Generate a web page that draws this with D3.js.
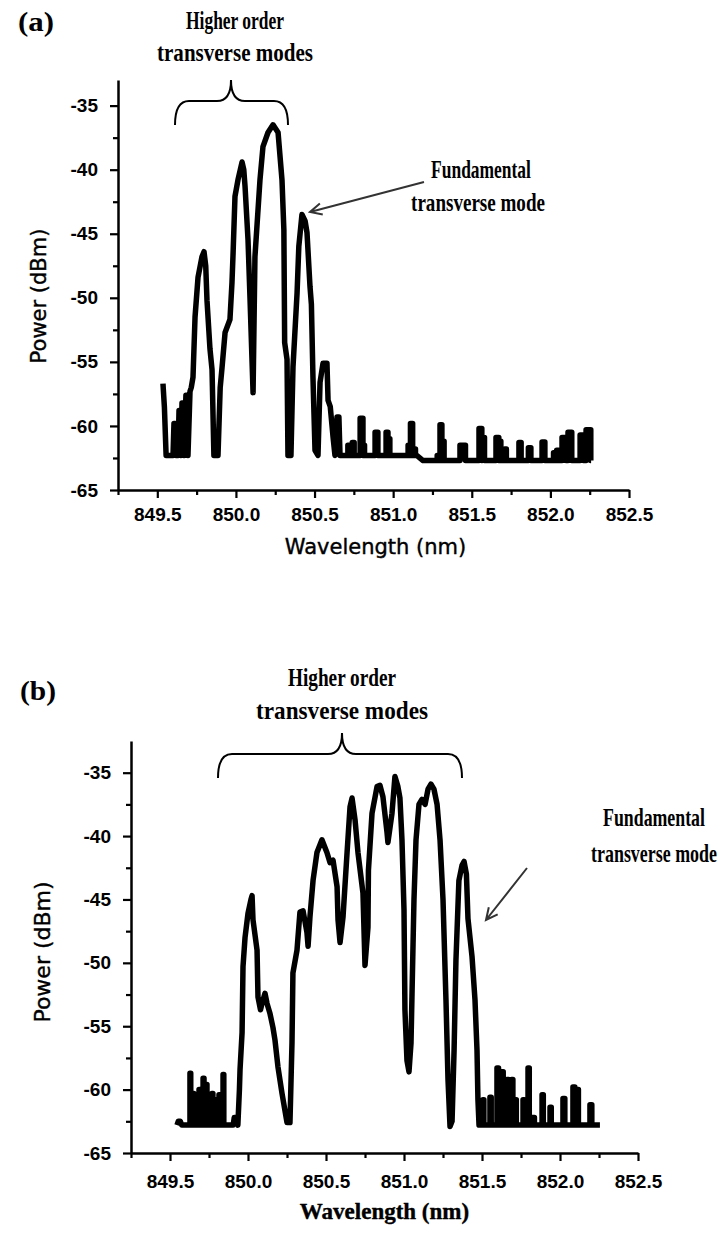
<!DOCTYPE html>
<html>
<head>
<meta charset="utf-8">
<script src="https://cdn.jsdelivr.net/npm/d3@7"></script>
<style>
  body { margin: 0; background: #fff; }
  .tick text { font-family: "Liberation Sans", Arial, sans-serif; font-weight: bold; }
  .note { font-family: "Liberation Serif", "Times New Roman", serif; font-weight: bold; }
</style>
</head>
<body>
<div id="chart"></div>
<script>

// axis ticks (same for both panels)
const xMajor = [849.5, 850.0, 850.5, 851.0, 851.5, 852.0, 852.5];
const xMinor = [849.25, 849.75, 850.25, 850.75, 851.25, 851.75, 852.25];
const yMajor = [-65, -60, -55, -50, -45, -40, -35];
const yMinor = [-62.5, -57.5, -52.5, -47.5, -42.5, -37.5];

// (a) spectrum, [wavelength nm, power dBm]
const traceA = [
    [849.536, -56.7], [849.545, -58.5], [849.556, -62.3], [849.600, -62.3],
    [849.606, -59.8], [849.613, -59.8], [849.619, -62.3], [849.632, -62.3],
    [849.638, -58.8], [849.644, -58.8], [849.650, -62.3], [849.657, -58.2],
    [849.663, -58.2], [849.670, -62.3], [849.682, -57.6], [849.689, -57.6],
    [849.695, -62.3], [849.708, -57.3], [849.716, -57.0], [849.727, -56.2],
    [849.740, -51.5], [849.759, -48.4], [849.784, -46.8], [849.797, -46.4],
    [849.808, -47.5], [849.816, -50.2], [849.835, -54.0], [849.848, -55.6],
    [849.860, -62.3], [849.886, -62.3], [849.900, -57.0], [849.912, -55.4],
    [849.931, -52.7], [849.962, -51.7], [849.975, -48.8], [849.982, -46.5],
    [849.994, -42.1], [850.013, -40.8], [850.039, -39.4], [850.050, -40.0],
    [850.058, -41.3], [850.077, -45.5], [850.090, -50.2], [850.109, -57.4],
    [850.121, -46.8], [850.153, -40.8], [850.172, -38.2], [850.204, -37.1],
    [850.236, -36.5], [850.268, -37.1], [850.293, -40.8], [850.305, -44.7],
    [850.310, -53.5], [850.325, -54.8], [850.331, -62.3], [850.350, -62.3],
    [850.363, -55.4], [850.389, -49.6], [850.400, -46.0], [850.420, -43.5],
    [850.440, -44.0], [850.452, -44.9], [850.471, -49.1], [850.480, -50.5],
    [850.490, -56.2], [850.503, -61.9], [850.522, -62.3], [850.535, -56.6],
    [850.554, -55.1], [850.579, -55.1], [850.586, -58.0], [850.600, -58.5],
    [850.618, -60.9], [850.630, -62.3], [850.643, -59.3], [850.655, -59.3],
    [850.662, -62.3], [850.700, -62.3]
];
// (a) noise spikes: [wavelength, top dBm, width nm]
const noiseA1 = [
    [850.712, -61.5, 0.006], [850.740, -61.3, 0.012], [850.790, -59.4, 0.018],
    [850.808, -61.5, 0.010], [850.885, -60.5, 0.018], [850.955, -60.5, 0.012],
    [850.967, -61.0, 0.012], [851.095, -61.5, 0.010], [851.110, -59.8, 0.014],
    [851.130, -61.8, 0.012]
];
const noiseA2 = [
    [851.280, -62.3, 0.012], [851.298, -59.9, 0.012], [851.312, -61.2, 0.012],
    [851.425, -61.5, 0.035], [851.546, -60.2, 0.018], [851.565, -60.9, 0.016],
    [851.654, -60.9, 0.018], [851.673, -61.2, 0.012], [851.710, -61.8, 0.010],
    [851.800, -61.3, 0.014], [851.860, -61.7, 0.016], [851.947, -61.25, 0.018],
    [852.020, -62.1, 0.010], [852.040, -61.9, 0.012], [852.074, -60.9, 0.026],
    [852.112, -60.5, 0.024], [852.189, -60.7, 0.022], [852.227, -60.3, 0.030]
];
const baseA = [-62.3, -62.7];
const endA = 852.259;

// (b) spectrum
const headB = [
    [849.545, -62.8], [849.553, -62.5], [849.566, -62.5], [849.575, -62.8], [849.622, -62.8]
];
const noiseB1 = [
    [849.628, -58.7, 0.005], [849.647, -60.3, 0.006], [849.667, -60.5, 0.006],
    [849.686, -60.0, 0.006], [849.712, -59.1, 0.006], [849.731, -59.6, 0.006],
    [849.750, -60.6, 0.006], [849.769, -60.3, 0.006], [849.788, -60.8, 0.006],
    [849.814, -60.4, 0.006], [849.840, -58.8, 0.005]
];
const traceB = [
    [849.905, -62.8], [849.912, -62.2], [849.925, -62.2], [849.935, -62.8],
    [849.945, -60.0], [849.949, -58.4], [849.962, -55.5], [849.968, -50.3],
    [849.981, -48.0], [850.000, -46.1], [850.019, -45.0], [850.026, -44.7],
    [850.032, -46.6], [850.058, -49.0], [850.064, -52.7], [850.080, -53.7],
    [850.090, -53.2], [850.109, -52.4], [850.122, -53.2], [850.141, -54.0],
    [850.160, -55.1], [850.173, -56.1], [850.192, -58.2], [850.218, -60.3],
    [850.250, -62.6], [850.269, -62.6], [850.282, -56.3], [850.288, -50.8],
    [850.314, -49.0], [850.333, -46.0], [850.353, -45.9], [850.378, -47.6],
    [850.385, -48.7], [850.397, -46.4], [850.417, -43.5], [850.442, -41.3],
    [850.474, -40.3], [850.506, -41.3], [850.526, -42.1], [850.545, -41.9],
    [850.571, -44.0], [850.577, -46.6], [850.590, -48.4], [850.609, -46.4],
    [850.635, -41.3], [850.654, -37.7], [850.667, -37.0], [850.686, -38.7],
    [850.705, -41.3], [850.737, -44.5], [850.750, -50.2], [850.769, -47.2],
    [850.772, -42.7], [850.795, -38.2], [850.827, -36.1], [850.846, -36.0],
    [850.865, -36.9], [850.891, -39.7], [850.897, -40.5], [850.923, -38.2],
    [850.942, -35.3], [850.961, -36.1], [850.974, -37.0], [850.987, -40.3],
    [851.000, -45.8], [851.006, -53.7], [851.019, -57.7], [851.032, -58.6],
    [851.045, -56.3], [851.058, -48.5], [851.064, -45.0], [851.077, -40.3],
    [851.096, -37.5], [851.115, -37.1], [851.135, -37.5], [851.154, -36.3],
    [851.173, -35.9], [851.192, -36.3], [851.212, -37.5], [851.231, -40.3],
    [851.250, -45.0], [851.269, -52.9], [851.282, -59.2], [851.295, -62.9],
    [851.308, -62.5], [851.321, -56.9], [851.333, -49.8], [851.352, -43.5],
    [851.372, -42.3], [851.385, -42.0], [851.400, -43.0], [851.410, -46.5],
    [851.436, -49.5], [851.455, -52.9], [851.468, -56.9], [851.474, -60.8],
    [851.481, -62.8]
];
const noiseB2 = [
    [851.506, -60.8, 0.006], [851.551, -60.6, 0.008], [851.596, -58.3, 0.010],
    [851.628, -58.6, 0.008], [851.660, -59.2, 0.010], [851.690, -59.2, 0.008],
    [851.712, -60.8, 0.008], [851.763, -60.8, 0.008], [851.795, -58.3, 0.008],
    [851.821, -62.2, 0.015], [851.885, -60.4, 0.008], [851.936, -61.4, 0.008],
    [852.019, -60.7, 0.012], [852.083, -59.8, 0.012], [852.110, -60.0, 0.008],
    [852.192, -61.2, 0.012]
];
const baseB = -62.8;
const endB = 852.256;

const titleTop = "Higher order";
const titleBottom = "transverse modes";
const fundTop = "Fundamental";
const fundBottom = "transverse mode";

// expand spikes into square pulses on the floor
function pulses(list, base) {
    let pts = [];
    list.forEach(([l, top, w]) => {
        pts.push([l, base], [l, top], [l + w, top], [l + w, base]);
    });
    return pts;
}

const specA = traceA
    .concat(pulses(noiseA1, baseA[0]))
    .concat([[851.150, baseA[0]], [851.190, baseA[1]]])
    .concat(pulses(noiseA2, baseA[1]))
    .concat([[endA, baseA[1]]]);

const specB = headB
    .concat(pulses(noiseB1, baseB))
    .concat(traceB)
    .concat(pulses(noiseB2, baseB))
    .concat([[endB, baseB]]);

const W = 720, H = 1243;
const svg = d3.select("#chart").append("svg")
    .attr("width", W)
    .attr("height", H)
    .style("display", "block");

// condensed bold serif note, squeezed horizontally to the width seen in the figure
function note(g, x, y, txt, len, size) {
    let t = g.append("text").attr("class", "note")
        .attr("text-anchor", "middle")
        .attr("font-size", size)
        .text(txt);
    let nat = t.node().getComputedTextLength();
    t.attr("transform", `translate(${x},${y}) scale(${len / nat},1)`);
}

function panel(cfg) {
    let x = d3.scaleLinear().domain([849.25, 852.5]).range([cfg.left, cfg.right]);
    let y = d3.scaleLinear().domain([-65, cfg.yTop]).range([cfg.bottom, cfg.top]);
    let g = svg.append("g");

    // minor ticks
    g.append("g")
        .attr("transform", `translate(0,${cfg.bottom})`)
        .call(d3.axisBottom(x).tickValues(xMinor).tickSize(5).tickFormat("").tickSizeOuter(0))
        .call(a => a.select(".domain").remove());
    g.append("g")
        .attr("transform", `translate(${cfg.left},0)`)
        .call(d3.axisLeft(y).tickValues(yMinor).tickSize(5).tickFormat("").tickSizeOuter(0))
        .call(a => a.select(".domain").remove());

    // major ticks + labels
    g.append("g")
        .attr("transform", `translate(0,${cfg.bottom})`)
        .call(d3.axisBottom(x).tickValues(xMajor).tickSize(8).tickPadding(cfg.xPad)
            .tickFormat(d3.format(".1f")).tickSizeOuter(0));
    g.append("g")
        .attr("transform", `translate(${cfg.left},0)`)
        .call(d3.axisLeft(y).tickValues(yMajor).tickSize(8).tickPadding(cfg.yPad)
            .tickFormat(d => String(d)).tickSizeOuter(0));

    g.selectAll(".domain").attr("stroke-width", 2.5);
    g.selectAll(".tick line").attr("stroke-width", 2.2);
    g.selectAll(".tick text").attr("font-size", 19).attr("fill", "#000");

    // spectrum
    g.append("path")
        .datum(cfg.data)
        .attr("fill", "none")
        .attr("stroke", "#000")
        .attr("stroke-width", 5.5)
        .attr("stroke-linejoin", "round")
        .attr("d", d3.line().x(d => x(d[0])).y(d => y(d[1])));

    // axis titles
    g.append("text")
        .attr("x", (cfg.left + cfg.right) / 2 + cfg.xTitleDx)
        .attr("y", cfg.bottom + cfg.xTitleDy)
        .attr("text-anchor", "middle")
        .attr("font-family", cfg.xTitleFont)
        .attr("font-weight", cfg.xTitleWeight)
        .attr("font-size", cfg.xTitleSize)
        .attr("stroke", "#000").attr("stroke-width", 0.4)
        .text("Wavelength (nm)");
    g.append("text")
        .attr("transform", `translate(${cfg.yTitleX},${cfg.yTitleY}) rotate(-90)`)
        .attr("text-anchor", "middle")
        .attr("font-family", "DejaVu Sans, Verdana, sans-serif")
        .attr("font-size", cfg.yTitleSize)
        .attr("stroke", "#000").attr("stroke-width", 0.4)
        .text("Power (dBm)");

    // panel letter
    note(g, cfg.letterX, cfg.letterY, cfg.letter, 36, 27);

    // brace over the higher order modes
    let b = cfg.brace;
    let r = 14;
    let bp = d3.path();
    bp.moveTo(b.x0, b.yEnd);
    bp.quadraticCurveTo(b.x0, b.yBar, b.x0 + r, b.yBar);
    bp.lineTo(b.xm - r, b.yBar);
    bp.quadraticCurveTo(b.xm, b.yBar, b.xm, b.yTip);
    bp.quadraticCurveTo(b.xm, b.yBar, b.xm + r, b.yBar);
    bp.lineTo(b.x1 - r, b.yBar);
    bp.quadraticCurveTo(b.x1, b.yBar, b.x1, b.yEnd);
    g.append("path").attr("d", bp.toString())
        .attr("fill", "none").attr("stroke", "#000").attr("stroke-width", 2);

    note(g, b.xm + b.tdx, b.yTip - b.t1, titleTop, b.w1, 25);
    note(g, b.xm + b.tdx, b.yTip - b.t2, titleBottom, b.w2, 25);

    // fundamental mode note + arrow
    let f = cfg.fund;
    note(g, f.tx, f.ty, fundTop, f.w1, 25);
    note(g, f.tx2, f.ty + f.dy, fundBottom, f.w2, 25);

    let ang = Math.atan2(f.y0 - f.y1, f.x0 - f.x1);
    let hl = 13, spread = 0.45;
    let ap = d3.path();
    ap.moveTo(f.x0, f.y0);
    ap.lineTo(f.x1, f.y1);
    ap.moveTo(f.x1 + hl * Math.cos(ang + spread), f.y1 + hl * Math.sin(ang + spread));
    ap.lineTo(f.x1, f.y1);
    ap.lineTo(f.x1 + hl * Math.cos(ang - spread), f.y1 + hl * Math.sin(ang - spread));
    g.append("path").attr("d", ap.toString())
        .attr("fill", "none").attr("stroke", "#333").attr("stroke-width", 2);
}

panel({
    data: specA, left: 118, right: 629, top: 80, bottom: 490, yTop: -33,
    xPad: 10, yPad: 12, xTitleDx: 2, xTitleDy: 64, xTitleFont: "DejaVu Sans, Verdana, sans-serif",
    xTitleWeight: "normal", xTitleSize: 21, yTitleX: 46, yTitleY: 296, yTitleSize: 21,
    letter: "(a)", letterX: 36, letterY: 31,
    brace: {x0: 175, x1: 288, xm: 231, yBar: 101, yTip: 80, yEnd: 125,
            tdx: 4, t1: 51, t2: 19, w1: 98, w2: 156},
    fund: {tx: 481, tx2: 478, ty: 178, dy: 33, w1: 100, w2: 134,
           x0: 424, y0: 182, x1: 310, y1: 212}
});

panel({
    data: specB, left: 131, right: 638, top: 741, bottom: 1153, yTop: -32.5,
    xPad: 14, yPad: 12, xTitleDx: 0, xTitleDy: 66, xTitleFont: "Liberation Serif, Times New Roman, serif",
    xTitleWeight: "bold", xTitleSize: 23, yTitleX: 50, yTitleY: 952, yTitleSize: 22,
    letter: "(b)", letterX: 38, letterY: 700,
    brace: {x0: 218, x1: 462, xm: 342, yBar: 754, yTip: 733, yEnd: 778,
            tdx: 0, t1: 47, t2: 14, w1: 108, w2: 172},
    fund: {tx: 654, tx2: 654, ty: 826, dy: 36, w1: 102, w2: 126,
           x0: 527, y0: 868, x1: 486, y1: 920}
});

</script>
</body>
</html>
